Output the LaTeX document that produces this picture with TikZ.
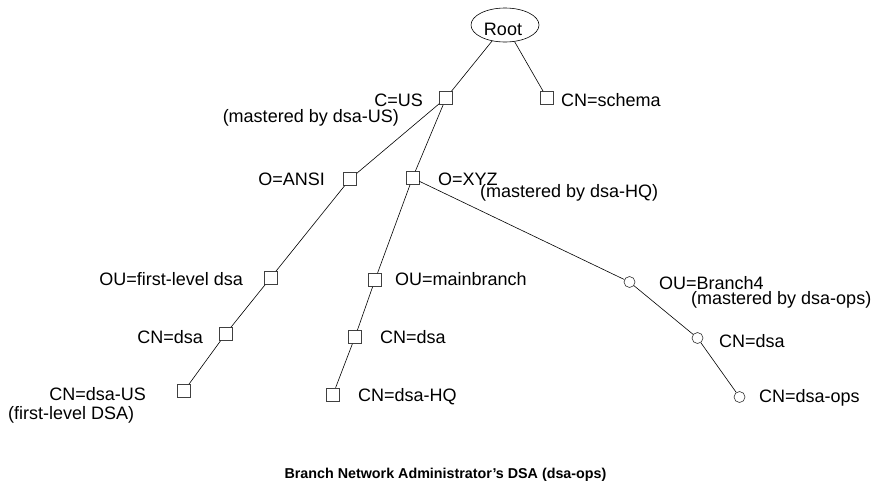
\documentclass[tikz,border=0pt]{standalone}
\usepackage{fontspec}
\setmainfont{Liberation Sans}
\usetikzlibrary{shapes.geometric}
\begin{document}
\begin{tikzpicture}[x=1pt,y=-1pt,
  entry/.style={draw=black!75, line width=0.6pt, minimum size=13pt, inner sep=0pt, fill=white},
  dsanode/.style={circle, draw=black!80, line width=0.6pt, minimum size=11pt, inner sep=0pt, fill=white},
  rootnode/.style={ellipse, draw, line width=0.6pt, minimum width=68pt, minimum height=34pt, inner sep=0pt},
  lbl/.style={inner sep=0pt, font=\fontsize{18}{20}\selectfont},
  link/.style={line width=0.6pt},
  caption/.style={inner sep=0pt, font=\fontsize{14.3}{16}\selectfont\bfseries}]
\useasboundingbox (0,0) rectangle (877,480);

% directory entries
\node[rootnode] (root) at (505,25) {};
\node[lbl, anchor=base] (rootlbl) at (503,35) {Root};
\node[entry] (us) at (446,98) {};
\node[entry] (schema) at (547,98) {};
\node[entry] (ansi) at (350,179) {};
\node[entry] (xyz) at (412.5,178) {};
\node[entry] (first) at (270.5,278) {};
\node[entry] (dsaA) at (225.5,334) {};
\node[entry] (dsaus) at (184,391) {};
\node[entry] (mainbr) at (375,280) {};
\node[entry] (dsaB) at (355,337) {};
\node[entry] (dsahq) at (333,394.5) {};
\node[dsanode] (br4) at (629.5,282) {};
\node[dsanode] (dsaC) at (697.5,338) {};
\node[dsanode] (dsaops) at (739.5,397) {};

% tree links
\draw[link] (root) -- (us);
\draw[link] (root) -- (schema);
\draw[link] (us) -- (ansi);
\draw[link] (us) -- (xyz);
\draw[link] (ansi) -- (first);
\draw[link] (first) -- (dsaA);
\draw[link] (dsaA) -- (dsaus);
\draw[link] (xyz) -- (mainbr);
\draw[link] (mainbr) -- (dsaB);
\draw[link] (dsaB) -- (dsahq);
\draw[link] (xyz) -- (br4);
\draw[link] (br4) -- (dsaC);
\draw[link] (dsaC) -- (dsaops);

% entry names
\node[lbl, anchor=base east] (uslbl) at (423,106) {C=US};
\node[lbl, anchor=base east] (usm) at (399,122) {(mastered by dsa-US)};
\node[lbl, anchor=base west] (schemalbl) at (561,106) {CN=schema};
\node[lbl, anchor=base east] (ansilbl) at (325,185) {O=ANSI};
\node[lbl, anchor=base west] (xyzlbl) at (438,185) {O=XYZ};
\node[lbl, anchor=base west] (xyzm) at (480,197) {(mastered by dsa-HQ)};
\node[lbl, anchor=base east] (firstlbl) at (243,285) {OU=first-level dsa};
\node[lbl, anchor=base east] (dsaAlbl) at (203,343) {CN=dsa};
\node[lbl, anchor=base east] (dsauslbl) at (146,400) {CN=dsa-US};
\node[lbl, anchor=base west] (dsausm) at (8,419) {(first-level DSA)};
\node[lbl, anchor=base west] (mainbrlbl) at (395,285) {OU=mainbranch};
\node[lbl, anchor=base west] (dsaBlbl) at (380,343) {CN=dsa};
\node[lbl, anchor=base west] (dsahqlbl) at (358,401) {CN=dsa-HQ};
\node[lbl, anchor=base west] (br4lbl) at (659,289) {OU=Branch4};
\node[lbl, anchor=base west] (br4m) at (691,304) {(mastered by dsa-ops)};
\node[lbl, anchor=base west] (dsaClbl) at (719,347) {CN=dsa};
\node[lbl, anchor=base west] (dsaopslbl) at (759,402) {CN=dsa-ops};

% caption
\node[caption, anchor=base] (title) at (445.5,478.5) {Branch Network Administrator’s DSA (dsa-ops)};
\end{tikzpicture}
\end{document}
